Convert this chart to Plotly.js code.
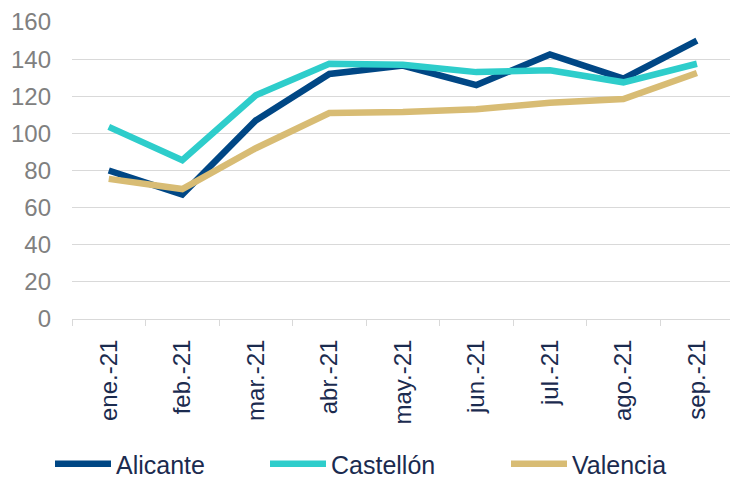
<!DOCTYPE html>
<html>
<head>
<meta charset="utf-8">
<script src="https://cdn.plot.ly/plotly-3.0.1.min.js"></script>
<style>html,body{margin:0;padding:0;background:#fff;}#chart{width:730px;height:477px;}</style>
</head>
<body>
<div id="chart"></div>
<script>
const months = ["ene.-21","feb.-21","mar.-21","abr.-21","may.-21","jun.-21","jul.-21","ago.-21","sep.-21"];
const alicante = [80, 67, 107, 132, 136.5, 126, 142.5, 129.5, 150];
const castellon = [103.5, 85.5, 120.5, 137.5, 137, 133, 134, 127.5, 137.5];
const valencia = [75.5, 70, 92, 111, 111.5, 113, 116.5, 118.5, 132.5];
const seriesNames = ["Alicante","Castellón","Valencia"];
const colors = ["#004785","#2ECDCB","#D8BC74"];
const fontFam = "'Liberation Sans', Arial, sans-serif";
const navy = "#1B2B4F";

const data = [alicante, castellon, valencia].map((v, i) => ({
  type: "scatter", mode: "lines", x: months, y: v, name: seriesNames[i],
  line: {color: colors[i], width: 6.5},
  legend: i === 0 ? "legend" : "legend" + (i + 1)
}));

const legBase = {orientation: "h", xref: "container", yref: "container", yanchor: "middle",
  font: {family: fontFam, size: 25, color: navy}, itemwidth: 56, bgcolor: "rgba(0,0,0,0)"};

const layout = {
  width: 730, height: 477,
  margin: {l: 72, r: 0, t: 22, b: 158},
  paper_bgcolor: "#fff", plot_bgcolor: "#fff",
  showlegend: true,
  xaxis: {
    type: "category", range: [-0.5, 8.45], tickangle: -90,
    tickfont: {family: fontFam, size: 24, color: navy},
    showgrid: false, showline: true, linecolor: "#D9D9D9", linewidth: 1,
    ticks: "outside", tickson: "boundaries", ticklen: 6, tickcolor: "#D9D9D9",
    ticklabelstandoff: 10, zeroline: false
  },
  yaxis: {
    range: [0, 160], dtick: 20, tick0: 0,
    tickfont: {family: fontFam, size: 24, color: "#808080"},
    showgrid: true, gridcolor: "#D9D9D9", gridwidth: 1,
    zeroline: false, showline: false, ticks: "", ticklabelstandoff: 20
  },
  legend: Object.assign({}, legBase, {x: 50/730, y: 1 - 464/477}),
  legend2: Object.assign({}, legBase, {x: 265/730, y: 1 - 464/477}),
  legend3: Object.assign({}, legBase, {x: 506/730, y: 1 - 464/477})
};

Plotly.newPlot("chart", data, layout, {displayModeBar: false, staticPlot: true});
</script>
</body>
</html>
